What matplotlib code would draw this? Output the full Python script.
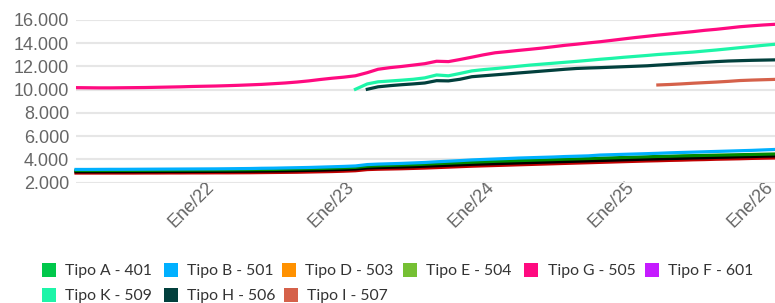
import matplotlib
matplotlib.use("Agg")
import matplotlib.pyplot as plt
from matplotlib.patches import Rectangle
from matplotlib.ticker import FuncFormatter
import pandas as pd

dates = pd.date_range("2021-01-01", periods=61, freq="MS") + pd.Timedelta(days=10)

tipo_g = [10180, 10170, 10160, 10160, 10170, 10180, 10190, 10210, 10230, 10250,
          10280, 10300, 10320, 10350, 10380, 10420, 10460, 10520, 10580, 10660,
          10760, 10880, 10990, 11080, 11200, 11470, 11760, 11900, 12000, 12120,
          12240, 12450, 12420, 12600, 12800, 13000, 13180, 13280, 13380, 13480,
          13580, 13700, 13820, 13920, 14030, 14130, 14250, 14370, 14490, 14600,
          14700, 14800, 14900, 15000, 15110, 15200, 15310, 15420, 15500, 15570,
          15630]

tipo_k = [10040, 10500, 10680, 10750, 10820, 10900, 11020, 11270, 11200, 11400,
          11620, 11730, 11820, 11920, 12020, 12120, 12200, 12280, 12360, 12440,
          12530, 12620, 12700, 12790, 12870, 12950, 13030, 13100, 13170, 13240,
          13330, 13420, 13520, 13620, 13720, 13820, 13910]  # from month 24

tipo_h = [10040, 10250, 10350, 10430, 10500, 10580, 10780, 10760, 10900, 11120,
          11200, 11280, 11360, 11440, 11520, 11600, 11680, 11760, 11830, 11870,
          11900, 11940, 11980, 12020, 12060, 12120, 12180, 12240, 12300, 12360,
          12420, 12470, 12500, 12530, 12550, 12570]  # from month 25

tipo_i = [10410, 10450, 10500, 10560, 10610, 10660, 10720, 10790, 10830, 10860,
          10890]  # from month 50

tipo_b = [3140, 3140, 3145, 3150, 3150, 3155, 3160, 3165, 3170, 3175, 3180, 3185,
          3190, 3200, 3210, 3220, 3240, 3250, 3270, 3290, 3310, 3340, 3370, 3400,
          3440, 3560, 3600, 3630, 3660, 3700, 3740, 3800, 3850, 3900, 3960, 4000,
          4040, 4080, 4120, 4150, 4180, 4210, 4250, 4280, 4310, 4380, 4410, 4440,
          4470, 4500, 4530, 4570, 4600, 4630, 4660, 4690, 4720, 4750, 4780, 4820,
          4860]

serie_verde = [3050, 3050, 3050, 3055, 3060, 3060, 3065, 3070, 3075, 3080, 3085,
               3090, 3095, 3100, 3110, 3120, 3130, 3140, 3160, 3180, 3200, 3220,
               3250, 3280, 3320, 3420, 3460, 3490, 3520, 3550, 3590, 3640, 3680,
               3720, 3760, 3800, 3840, 3870, 3900, 3930, 3960, 3990, 4020, 4050,
               4080, 4110, 4140, 4170, 4200, 4230, 4260, 4280, 4310, 4330, 4350,
               4370, 4390, 4410, 4430, 4450, 4470]

serie_negra = [2940, 2940, 2940, 2945, 2945, 2950, 2950, 2955, 2960, 2960, 2965,
               2970, 2975, 2980, 2985, 2990, 3000, 3010, 3020, 3040, 3060, 3080,
               3110, 3140, 3180, 3270, 3300, 3330, 3350, 3380, 3420, 3460, 3500,
               3540, 3580, 3610, 3640, 3670, 3700, 3730, 3760, 3790, 3820, 3850,
               3880, 3910, 3940, 3970, 4000, 4030, 4050, 4080, 4100, 4130, 4150,
               4180, 4200, 4230, 4250, 4280, 4300]

serie_roja = [2830, 2830, 2830, 2830, 2830, 2830, 2835, 2835, 2840, 2840, 2845,
              2845, 2850, 2850, 2855, 2860, 2870, 2880, 2890, 2900, 2920, 2940,
              2960, 2990, 3030, 3130, 3160, 3180, 3200, 3230, 3260, 3300, 3340,
              3380, 3420, 3450, 3480, 3510, 3540, 3570, 3600, 3630, 3660, 3690,
              3720, 3750, 3780, 3810, 3840, 3870, 3890, 3920, 3940, 3970, 3990,
              4020, 4040, 4060, 4090, 4110, 4130]

legend_labels = ["Tipo A - 401", "Tipo B - 501", "Tipo D - 503", "Tipo E - 504",
                 "Tipo G - 505", "Tipo F - 601", "Tipo K - 509", "Tipo H - 506",
                 "Tipo I - 507"]
legend_colors = ["#00C84B", "#00B0FF", "#FF9100", "#76C034", "#FF0A80",
                 "#C51BFF", "#1DF5A8", "#02403D", "#D5614A"]
yticks = [2000, 4000, 6000, 8000, 10000, 12000, 14000, 16000]
xtick_years = [2022, 2023, 2024, 2025, 2026]
xtick_labels = ["Ene/22", "Ene/23", "Ene/24", "Ene/25", "Ene/26"]

W, H = 775, 303
fig = plt.figure(figsize=(W / 100, H / 100), dpi=100)
ax = fig.add_axes([76 / W, 1 - 182.7 / H, 699 / W, (182.7 - 20) / H])

lw = 2.3
ax.plot(dates, serie_roja, color="#C00000", lw=lw, clip_on=False, zorder=3)
ax.plot(dates, serie_negra, color="#000000", lw=lw, clip_on=False, zorder=3)
ax.plot(dates, serie_verde, color="#008A00", lw=lw, clip_on=False, zorder=3)
ax.plot(dates, tipo_b, color=legend_colors[1], lw=lw, clip_on=False, zorder=3)
ax.plot(dates[50:], tipo_i, color=legend_colors[8], lw=lw, zorder=3)
ax.plot(dates[25:], tipo_h, color=legend_colors[7], lw=lw, zorder=3)
ax.plot(dates[24:], tipo_k, color=legend_colors[6], lw=lw, zorder=3)
ax.plot(dates, tipo_g, color=legend_colors[4], lw=lw, zorder=3)

ax.set_xlim(dates[0], dates[-1])
ax.set_ylim(2000, 16000)
for s in ax.spines.values():
    s.set_visible(False)
ax.set_yticks(yticks)
ax.yaxis.set_major_formatter(FuncFormatter(lambda v, p: f"{int(v):,}".replace(",", ".")))
ax.grid(axis="y", color="#e6e6e6", lw=1.5, zorder=0)
ax.tick_params(length=0)
ax.tick_params(axis="y", labelsize=13, labelcolor="#666666", pad=5)
for t in ax.get_yticklabels():
    t.set_fontfamily("Liberation Sans")

ax.set_xticks([pd.Timestamp(f"{y}-01-01") for y in xtick_years])
ax.set_xticklabels(xtick_labels, rotation=45, ha="right", va="center",
                   rotation_mode="anchor", fontsize=13, color="#666666",
                   fontfamily="Liberation Sans")
ax.tick_params(axis="x", pad=1.5)

# legend laid out as in the reference (pixel positions of each item)
item_x = [41.5, 163.5, 281.5, 403, 524, 645, 41.5, 163.5, 283.5]
item_y = [269.5] * 6 + [294.5] * 3
sq = 14
for lab, col, x, y in zip(legend_labels, legend_colors, item_x, item_y):
    fig.patches.append(Rectangle((x / W, 1 - (y + sq / 2) / H), sq / W, sq / H,
                                 transform=fig.transFigure, facecolor=col,
                                 edgecolor="none"))
    fig.text((x + 23.5) / W, 1 - y / H, lab, ha="left", va="center_baseline",
             fontsize=11.3, family="Lato", color="#333333")

fig.savefig("out.png", dpi=100)
